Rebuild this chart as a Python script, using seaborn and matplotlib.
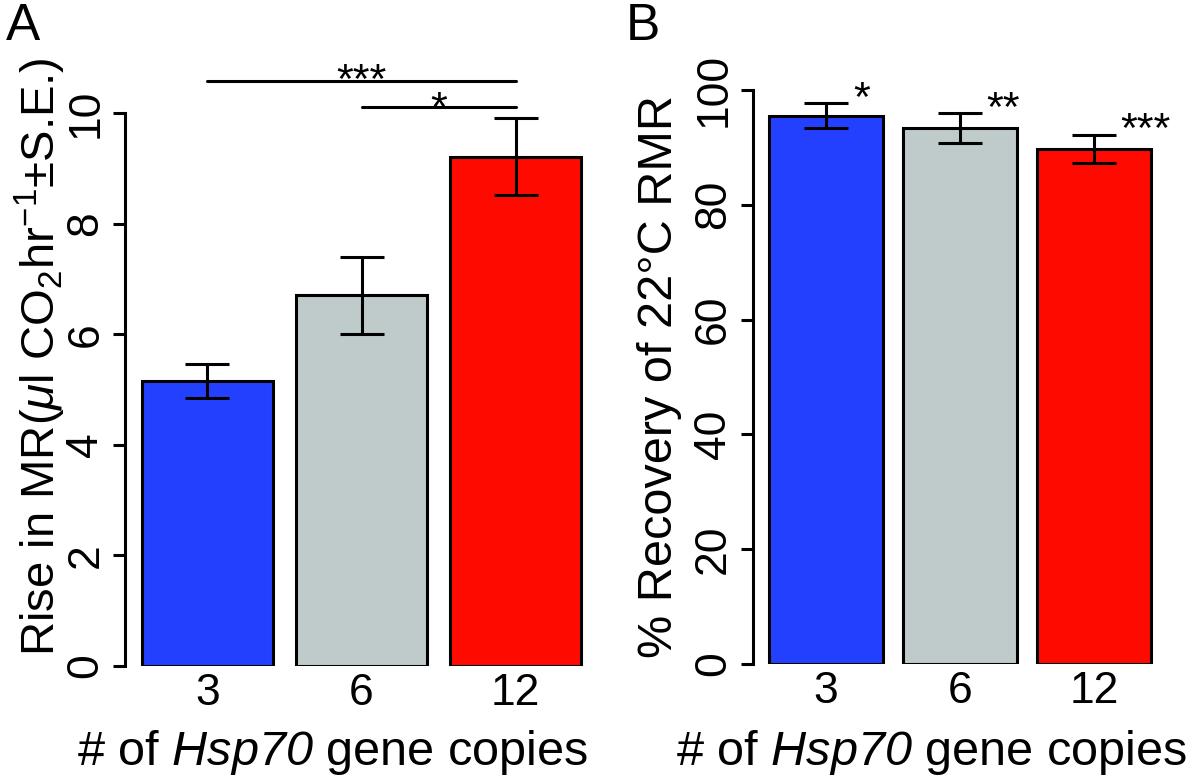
import pandas as pd
import matplotlib
matplotlib.use('Agg')
import matplotlib.pyplot as plt
import seaborn as sns

# ----------------------- Data -------------------------------------------
copies = ['3', '6', '12']
bar_colors = ['#2440FF', '#BFCACA', '#FF0A00']

rise_mr = [5.16, 6.70, 9.21]
rise_se = [0.31, 0.70, 0.70]
rise_ticks = [0, 2, 4, 6, 8, 10]

recovery = [95.5, 93.4, 89.7]
recovery_se = [2.15, 2.55, 2.50]
recovery_stars = ['*', '**', '***']
recovery_ticks = [0, 20, 40, 60, 80, 100]

# ----------------------- Style ------------------------------------------
sns.set_theme(style='ticks')
plt.rcParams['font.family'] = ['Liberation Sans', 'DejaVu Sans']
plt.rcParams['mathtext.fontset'] = 'custom'
plt.rcParams['mathtext.rm'] = 'Liberation Sans'
plt.rcParams['mathtext.it'] = 'Liberation Sans:italic'
plt.rcParams['mathtext.sf'] = 'Liberation Sans:italic'
for key in ['text.color', 'axes.labelcolor', 'xtick.color', 'ytick.color',
            'axes.edgecolor']:
    plt.rcParams[key] = 'black'

TICK_FS = 32
LABEL_FS = 35
STAR_FS = 31
LW = 2.2

W, H = 1200, 778
fig = plt.figure(figsize=(12, 7.78), dpi=100)


def px_axes(left, right, bottom, top):
    return fig.add_axes([left / W, (H - bottom) / H,
                         (right - left) / W, (bottom - top) / H])


def draw_panel(ax, values, errors, ticks, xlim):
    df = pd.DataFrame({'copies': copies, 'value': values})
    sns.barplot(data=df, x='copies', y='value', hue='copies', order=copies,
                hue_order=copies, palette=bar_colors, saturation=1,
                edgecolor='black', linewidth=LW, width=0.85, legend=False,
                ax=ax)
    ax.errorbar(range(len(copies)), values, yerr=errors, fmt='none',
                ecolor='black', elinewidth=LW, capsize=16, capthick=LW,
                zorder=5)
    ax.set_xlim(*xlim)
    ax.set_ylim(ticks[0], ticks[-1])
    ax.set_yticks(ticks)
    ax.set_yticklabels([str(t) for t in ticks])
    sns.despine(ax=ax, bottom=True)
    ax.spines['left'].set_linewidth(LW)
    ax.tick_params(axis='x', length=0, pad=5, labelsize=TICK_FS)
    ax.tick_params(axis='y', length=8.5, width=LW, pad=5,
                   labelsize=TICK_FS, labelrotation=90)
    for lab in ax.get_yticklabels():
        lab.set_verticalalignment('center')
    ax.set_xlabel(r'# of $\mathsf{Hsp70}$ gene copies', fontsize=LABEL_FS)
    ax.patch.set_alpha(0)


# ----------------------- Panel A ----------------------------------------
ax_a = px_axes(125, 598, 666, 113)
draw_panel(ax_a, rise_mr, rise_se, rise_ticks, (-0.535, 2.535))
ax_a.set_ylabel(r'Rise in MR$(\mu$l CO$_2$hr$^{-1}$±S.E.)', fontsize=34)
ax_a.yaxis.set_label_coords(-0.1205, 0.56)
ax_a.xaxis.set_label_coords(0.4387, -0.112)

# significance brackets between groups
for (i, j, y_line, y_star, label) in [(0, 2, 10.57, 10.81, '***'),
                                      (1, 2, 10.11, 10.30, '*')]:
    ax_a.plot([i, j], [y_line, y_line], color='black', lw=LW, clip_on=False)
    ax_a.annotate(label, ((i + j) / 2, y_star), xytext=(0, -0.575 * STAR_FS),
                  textcoords='offset points', ha='center', va='baseline',
                  fontsize=STAR_FS, annotation_clip=False)

# ----------------------- Panel B ----------------------------------------
ax_b = px_axes(753, 1167, 664, 90)
draw_panel(ax_b, recovery, recovery_se, recovery_ticks, (-0.545, 2.545))
ax_b.set_ylabel('% Recovery of 22°C RMR', fontsize=LABEL_FS)
ax_b.yaxis.set_label_coords(-0.1715, 0.5)
ax_b.xaxis.set_label_coords(0.432, -0.1115)

for k, (v, e, s) in enumerate(zip(recovery, recovery_se, recovery_stars)):
    ax_b.annotate(s, (k + 0.2, v + e + 3), xytext=(0, -0.575 * STAR_FS),
                  textcoords='offset points', ha='left', va='baseline',
                  fontsize=STAR_FS, annotation_clip=False)

# ----------------------- Panel letters ----------------------------------
fig.text(6 / W, 1 - 2 / H, 'A', fontsize=37, ha='left', va='top')
fig.text(626 / W, 1 - 2 / H, 'B', fontsize=37, ha='left', va='top')

fig.savefig('out.png', dpi=100, facecolor='white')
